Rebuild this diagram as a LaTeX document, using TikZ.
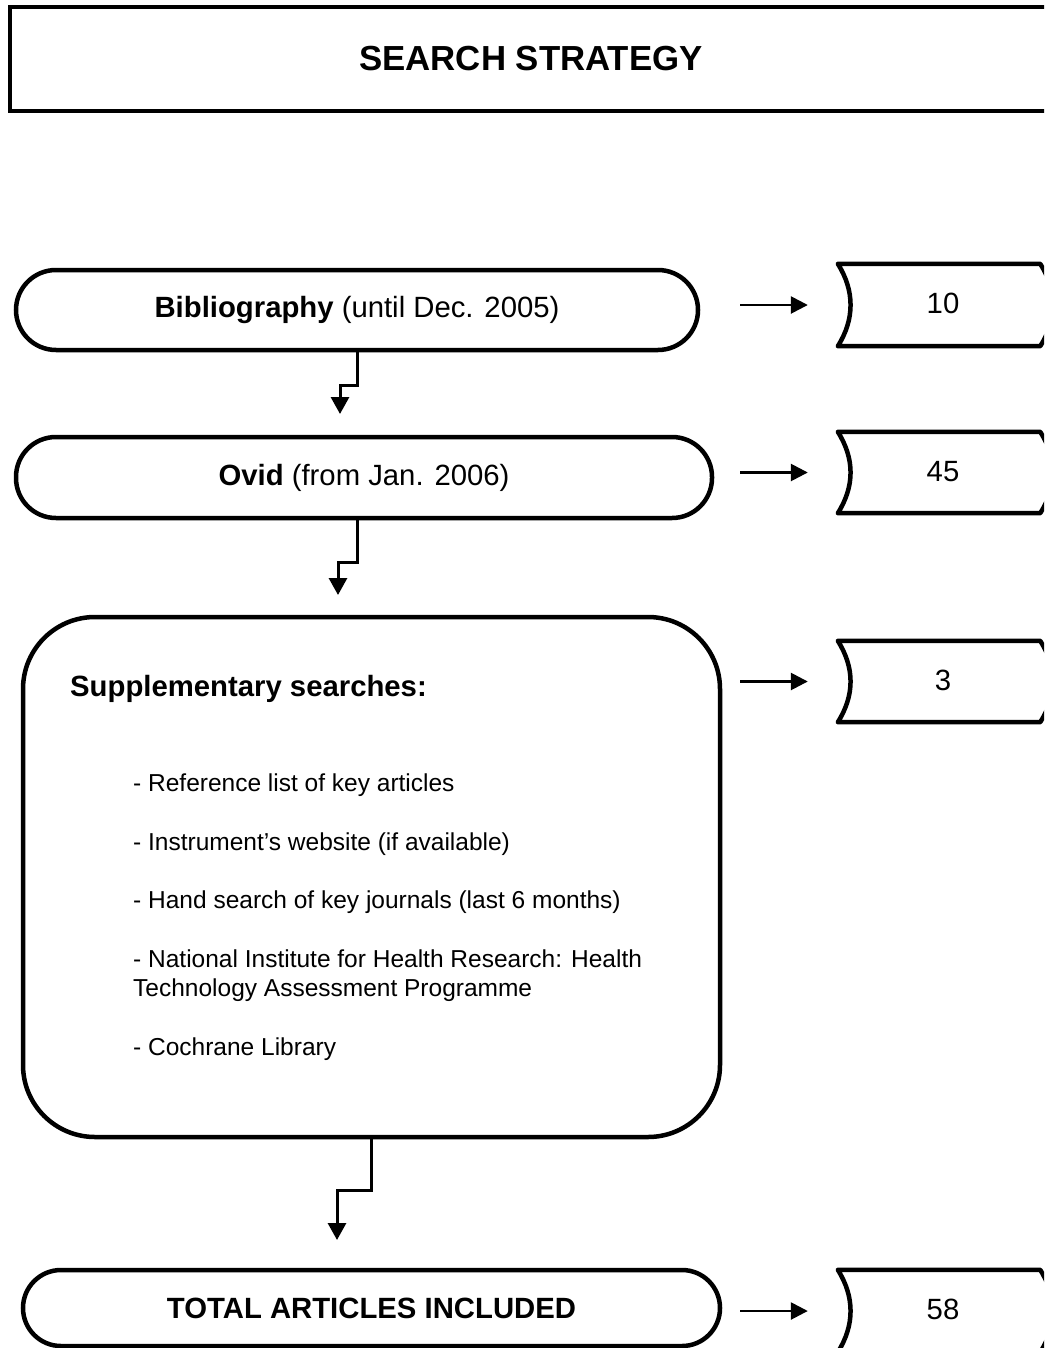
\documentclass[tikz,border=0pt]{standalone}
\usepackage{fontspec}
\setmainfont{Liberation Sans}
\usetikzlibrary{arrows.meta}
\begin{document}
\begin{tikzpicture}[x=1pt,y=-1pt,
  box/.style={draw, line width=4.5pt, inner sep=0pt},
  pill/.style={box, rounded corners=40pt},
  big/.style={font=\fontsize{29.3}{35}\selectfont},
  bigb/.style={font=\fontsize{29.3}{35}\selectfont\bfseries},
  small/.style={font=\fontsize{24.5}{29}\selectfont, inner sep=0pt},
  store/.style={minimum width=210pt, inner sep=0pt, font=\fontsize{29.3}{35}\selectfont},
  conn/.style={line width=3pt, -{Triangle[length=17pt,width=18pt]}},
  harr/.style={line width=2.6pt, -{Triangle[length=17pt,width=17pt]}},
  sline/.style={line width=4.5pt, line join=round}
]
\clip (0,0) rectangle (1044,1348);

% title
\node[box, line width=4.2pt, minimum width=1042pt, minimum height=104pt,
      font=\fontsize{34.8}{40}\selectfont\bfseries] (title) at (531,59) {SEARCH STRATEGY};

% main boxes
\node[pill, minimum width=682pt, minimum height=80pt, big] (bib) at (357,310)
  {\textbf{Bibliography} (until Dec. 2005)};
\node[pill, minimum width=696pt, minimum height=81pt, big] (ovid) at (364,477.5)
  {\textbf{Ovid} (from Jan. 2006)};
\node[box, rounded corners=72pt, minimum width=697pt, minimum height=520pt] (supp) at (371.5,877) {};
\node[pill, rounded corners=38pt, minimum width=697pt, minimum height=76pt, bigb] (total) at (371.5,1308)
  {TOTAL ARTICLES INCLUDED};

% supplementary content
\node[anchor=base west, bigb, inner sep=0pt] (sh) at (70,696) {Supplementary searches:};
\node[anchor=base west, small] (l1) at (133,791) {- Reference list of key articles};
\node[anchor=base west, small] (l2) at (133,850) {- Instrument’s website (if available)};
\node[anchor=base west, small] (l3) at (133,908) {- Hand search of key journals (last 6 months)};
\node[anchor=base west, small] (l4) at (133,967)
  {\begin{tabular}[t]{@{}l@{}}- National Institute for Health Research: Health\\Technology Assessment Programme\end{tabular}};
\node[anchor=base west, small] (l5) at (133,1055) {- Cochrane Library};

% storage shapes
\foreach \n/\y/\h/\t/\ty in {n10/305/82/10/303, n45/472.5/81/45/472, n3/681.5/81/3/680, n58/1311/82/58/1309}{
  \node[store, minimum height=\h pt] (\n) at (943,\y) {};
  \node[font=\fontsize{29.3}{35}\selectfont, inner sep=0pt] (\n-t) at (943,\ty) {\t};
  \draw[sline] (\n.north west) .. controls +(17,27) and +(17,-27) .. (\n.south west)
     -- ([xshift=-8pt]\n.south east) .. controls +(17,-27) and +(17,27) .. ([xshift=-8pt]\n.north east) -- cycle;
}

% horizontal arrows
\draw[harr] ([xshift=40pt]bib.east |- n10.west) -- ([xshift=-30pt]n10.west);
\draw[harr] ([xshift=26pt]ovid.east |- n45.west) -- ([xshift=-30pt]n45.west);
\draw[harr] ([xshift=18pt]supp.east |- n3.west) -- ([xshift=-30pt]n3.west);
\draw[harr] ([xshift=18pt]total.east |- n58.west) -- ([xshift=-30pt]n58.west);

% vertical connectors
\coordinate (t1) at (340,414);
\coordinate (t2) at (338,595);
\coordinate (t3) at (337,1240);
\draw[conn] (bib.south) -- ++(0,33) -| (t1);
\draw[conn] ([xshift=-7pt]ovid.south) -- ++(0,42) -| (t2);
\draw[conn] (supp.south) -- ++(0,51) -| (t3);
\end{tikzpicture}
\end{document}
